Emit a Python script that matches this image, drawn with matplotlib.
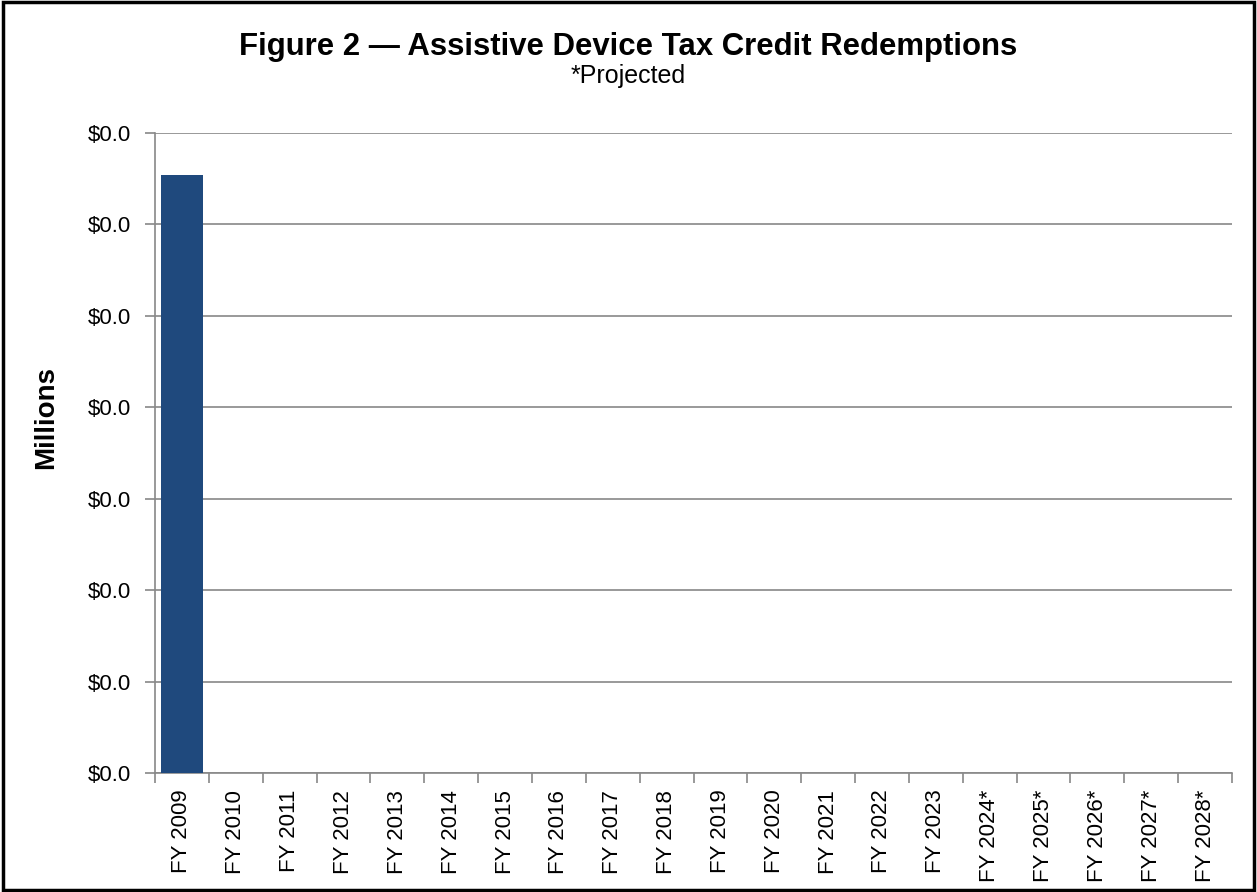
import numpy as np
import matplotlib.pyplot as plt
from matplotlib.patches import Rectangle

plt.rcParams['font.family'] = ['Liberation Sans', 'DejaVu Sans']

# data (millions)
years = ['FY 2009', 'FY 2010', 'FY 2011', 'FY 2012', 'FY 2013', 'FY 2014',
         'FY 2015', 'FY 2016', 'FY 2017', 'FY 2018', 'FY 2019', 'FY 2020',
         'FY 2021', 'FY 2022', 'FY 2023', 'FY 2024*', 'FY 2025*', 'FY 2026*',
         'FY 2027*', 'FY 2028*']
redemptions = [0.0327, 0, 0, 0, 0, 0, 0, 0, 0, 0, 0, 0, 0, 0, 0, 0, 0, 0, 0, 0]
yticks = [0, 0.005, 0.010, 0.015, 0.020, 0.025, 0.030, 0.035]

fig = plt.figure(figsize=(12.57, 8.92), dpi=100)
ax = fig.add_axes([155/1257, 1 - 773/892, (1232-155)/1257, (773-133)/892])

x = np.arange(len(years))
ax.bar(x, redemptions, width=0.78, color='#1F497D', zorder=3)

ax.set_xlim(-0.5, len(years) - 0.5)
ax.set_ylim(0, 0.035)
ax.set_yticks(yticks)
ax.set_yticklabels(['${:.1f}'.format(v) for v in yticks], fontsize=16)
ax.set_xticks(np.arange(len(years) + 1) - 0.5, minor=False)
ax.set_xticklabels([])
ax.set_xticks(x, minor=True)
ax.set_xticklabels(years, minor=True, rotation=90, fontsize=16)
ax.tick_params(axis='x', which='major', length=7, color='#888888', width=1.2)
ax.tick_params(axis='x', which='minor', length=0, pad=12)
ax.tick_params(axis='y', length=7, color='#888888', width=1.2, pad=10)

ax.grid(axis='y', color='#888888', linewidth=1.2, zorder=0)
for s in ['top', 'right']:
    ax.spines[s].set_visible(False)
ax.spines['left'].set_color('#888888')
ax.spines['bottom'].set_color('#888888')
ax.spines['left'].set_linewidth(1.2)
ax.spines['bottom'].set_linewidth(1.2)

ax.set_ylabel('Millions', fontsize=20, fontweight='bold')
ax.yaxis.set_label_coords(-0.089, 0.555)

fig.text(0.5, 1 - 55/892, 'Figure 2 \u2014 Assistive Device Tax Credit Redemptions',
         ha='center', va='baseline', fontsize=22.4, fontweight='bold')
fig.text(0.5, 1 - 83/892, '*Projected', ha='center', va='baseline', fontsize=18)

# figure border
fig.patches.append(Rectangle((0.002, 0.002), 0.996, 0.996, transform=fig.transFigure,
                             fill=False, edgecolor='black', linewidth=2.5))

fig.savefig('out.png', dpi=100)
